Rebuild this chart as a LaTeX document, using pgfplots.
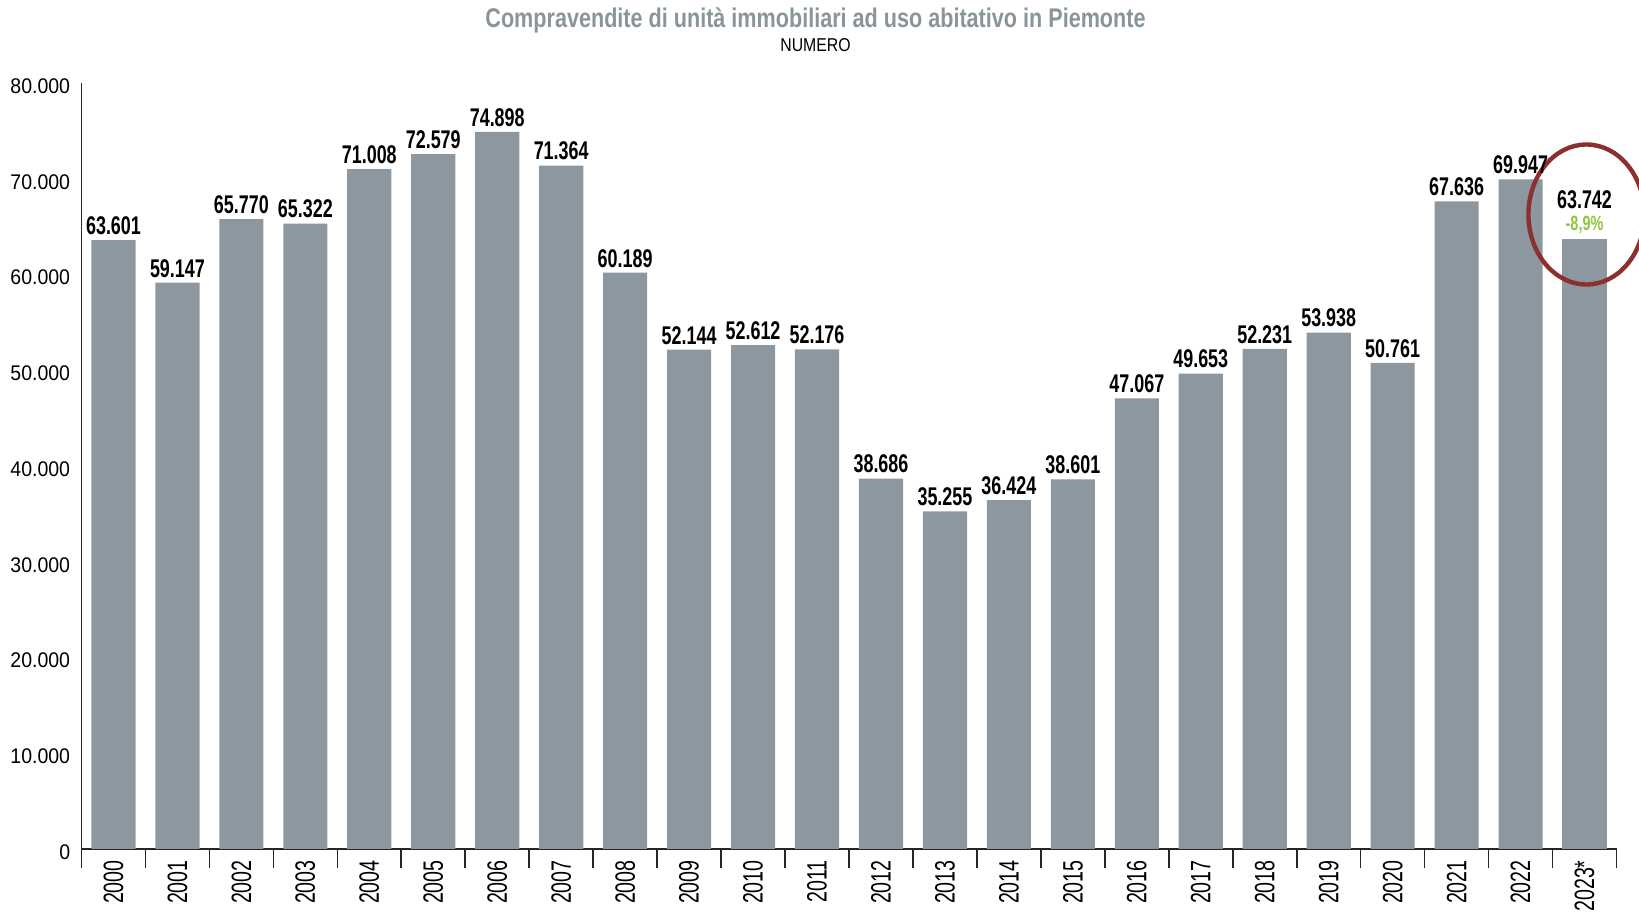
\documentclass[border=0pt]{standalone}
\usepackage{fontspec}
\setmainfont{Liberation Sans}
\newfontfamily\condx[FakeStretch=0.7]{Liberation Sans}
\newfontfamily\condy[FakeStretch=0.92]{Liberation Sans}
\newfontfamily\condt[FakeStretch=0.8]{Liberation Sans}
\newfontfamily\condn[FakeStretch=0.85]{Liberation Sans}
\usepackage{pgfplots}
\usepackage{pgfplotstable}
\pgfplotsset{compat=1.18}
\definecolor{bargray}{HTML}{8C979F}
\definecolor{titlegray}{HTML}{8A959B}
\definecolor{circred}{HTML}{8E2F2F}
\definecolor{pctgreen}{HTML}{8DC63F}
\pgfkeys{/pgf/number format/.cd,1000 sep={.},assume math mode=true}

% compravendite per anno (0 = 2000)
\pgfplotstableread{
x y
0 63601
1 59147
2 65770
3 65322
4 71008
5 72579
6 74898
7 71364
8 60189
9 52144
10 52612
11 52176
12 38686
13 35255
14 36424
15 38601
16 47067
17 49653
18 52231
19 53938
20 50761
21 67636
22 69947
}\compr

\begin{document}
\begin{tikzpicture}
\begin{axis}[
  scale only axis,width=767.5pt,height=383pt,
  xmin=-0.5,xmax=23.5,ymin=0,ymax=80000,
  axis x line*=bottom,axis y line*=left,
  axis line style={black!85,line width=0.8pt},
  ybar,bar width=0.69,
  xtick={0,...,23},
  xticklabels={2000,2001,2002,2003,2004,2005,2006,2007,2008,2009,2010,2011,2012,2013,2014,2015,2016,2017,2018,2019,2020,2021,2022,2023*},
  minor xtick={-0.5,0.5,...,23.5},
  ytick={0,10000,...,80000},scaled y ticks=false,
  major tick length=0pt,minor tick length=9.5pt,
  minor tick style={black!85,line width=0.8pt},
  xticklabel shift=5.5pt,yticklabel shift=5.5pt,
  x tick label style={font=\condx\fontsize{14}{14}\selectfont,rotate=90,anchor=east,inner sep=0pt},
  y tick label style={font=\condy\fontsize{10.6}{10.6}\selectfont,inner sep=0pt,yshift=-1.5pt},
  clip=false,
]
\coordinate (O) at (rel axis cs:0,0);
\addplot[fill=bargray,draw=none,bar shift=0pt,
  nodes near coords,
  every node near coord/.append style={font=\condx\bfseries\fontsize{12.8}{12.8}\selectfont,anchor=south,inner sep=0pt,yshift=2.5pt}]
  table[x=x,y=y]{\compr};
\addplot[fill=bargray,draw=none,bar shift=0pt,
  nodes near coords,
  every node near coord/.append style={font=\condx\bfseries\fontsize{12.8}{12.8}\selectfont,anchor=south,inner sep=0pt,yshift=14.5pt}]
  coordinates {(23,63742)};
\node[anchor=south,inner sep=0pt,yshift=2.5pt,text=pctgreen,font=\condx\bfseries\fontsize{10.3}{10.3}\selectfont] at (axis cs:23,63742) {-8,9\%};
\draw[circred,line width=2.2pt] (axis cs:23.03,66266) ellipse [x radius=29pt,y radius=35pt];
\end{axis}
\node[anchor=base,text=titlegray,font=\condt\bfseries\fontsize{13.5}{13.5}\selectfont] at ([shift={(367pt,410.5pt)}]O) {Compravendite di unità immobiliari ad uso abitativo in Piemonte};
\node[anchor=base,font=\condn\fontsize{9.3}{9.3}\selectfont] at ([shift={(367pt,398.5pt)}]O) {NUMERO};
\pgfresetboundingbox
\path[use as bounding box] ([shift={(-40.75pt,-32.5pt)}]O) rectangle ++(819.5pt,457pt);
\end{tikzpicture}
\end{document}
